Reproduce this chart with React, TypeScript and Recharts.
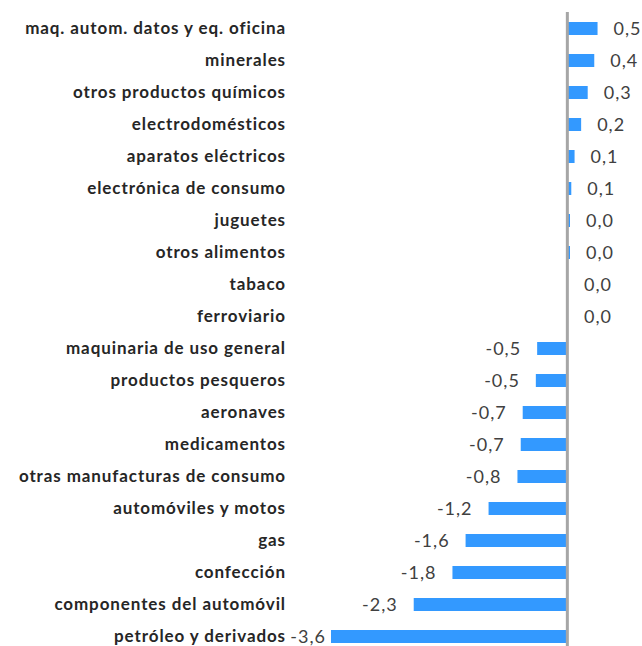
import { BarChart, Bar, XAxis, YAxis, ReferenceLine, LabelList } from 'recharts';

const categories = [
  "maq. autom. datos y eq. oficina",
  "minerales",
  "otros productos químicos",
  "electrodomésticos",
  "aparatos eléctricos",
  "electrónica de consumo",
  "juguetes",
  "otros alimentos",
  "tabaco",
  "ferroviario",
  "maquinaria de uso general",
  "productos pesqueros",
  "aeronaves",
  "medicamentos",
  "otras manufacturas de consumo",
  "automóviles y motos",
  "gas",
  "confección",
  "componentes del automóvil",
  "petróleo y derivados",
];

const values = [
  0.46, 0.41, 0.31, 0.21, 0.11, 0.06, 0.04, 0.04, 0.01, 0.01,
  -0.46, -0.48, -0.68, -0.71, -0.76, -1.2, -1.55, -1.75, -2.34, -3.6,
];

const xDomain = [-3.6, 1.0];

const data = categories.map((name, i) => ({ name, value: values[i] }));

const fmt = (v: number) => v.toFixed(1).replace('.', ',').replace('-0,0', '0,0');

// value label: outside the bar end, pulled in a little when it would hit the category text
const ValueLabel = (props: any) => {
  const { x, y, width, height, value } = props;
  const v = Number(value);
  const cy = y + height / 2;
  const style = { fill: '#404040', fontSize: 18, fontFamily: 'Lato', letterSpacing: 1 };
  if (v >= 0) {
    return (
      <text x={x + width + 16} y={cy} dy="0.35em" textAnchor="start" style={style}>
        {fmt(v)}
      </text>
    );
  }
  const left = x + width; // width is negative for negative bars
  const tx = Math.max(left - 16, 326);
  return (
    <text x={tx} y={cy} dy="0.35em" textAnchor="end" style={style}>
      {fmt(v)}
    </text>
  );
};

export default function App() {
  return (
    <div style={{ position: 'absolute', left: 0, top: 0, width: 642, height: 646, overflow: 'hidden', background: '#fff' }}>
      <BarChart
        width={642}
        height={660}
        data={data}
        layout="vertical"
        margin={{ top: 12, right: 9, left: 0, bottom: 8 }}
      >
        <XAxis type="number" domain={xDomain} hide />
        <YAxis
          type="category"
          dataKey="name"
          width={331}
          axisLine={false}
          tickLine={false}
          tickMargin={39}
          interval={0}
          tick={{ fill: '#262626', fontSize: 17, fontWeight: 700, fontFamily: 'Lato', letterSpacing: 0.9 }}
        />
        <Bar dataKey="value" fill="#3399FF" barSize={13} isAnimationActive={false}>
          <LabelList dataKey="value" content={ValueLabel} />
        </Bar>
        <ReferenceLine x={0} stroke="#A6A6A6" strokeWidth={3} />
      </BarChart>
    </div>
  );
}
